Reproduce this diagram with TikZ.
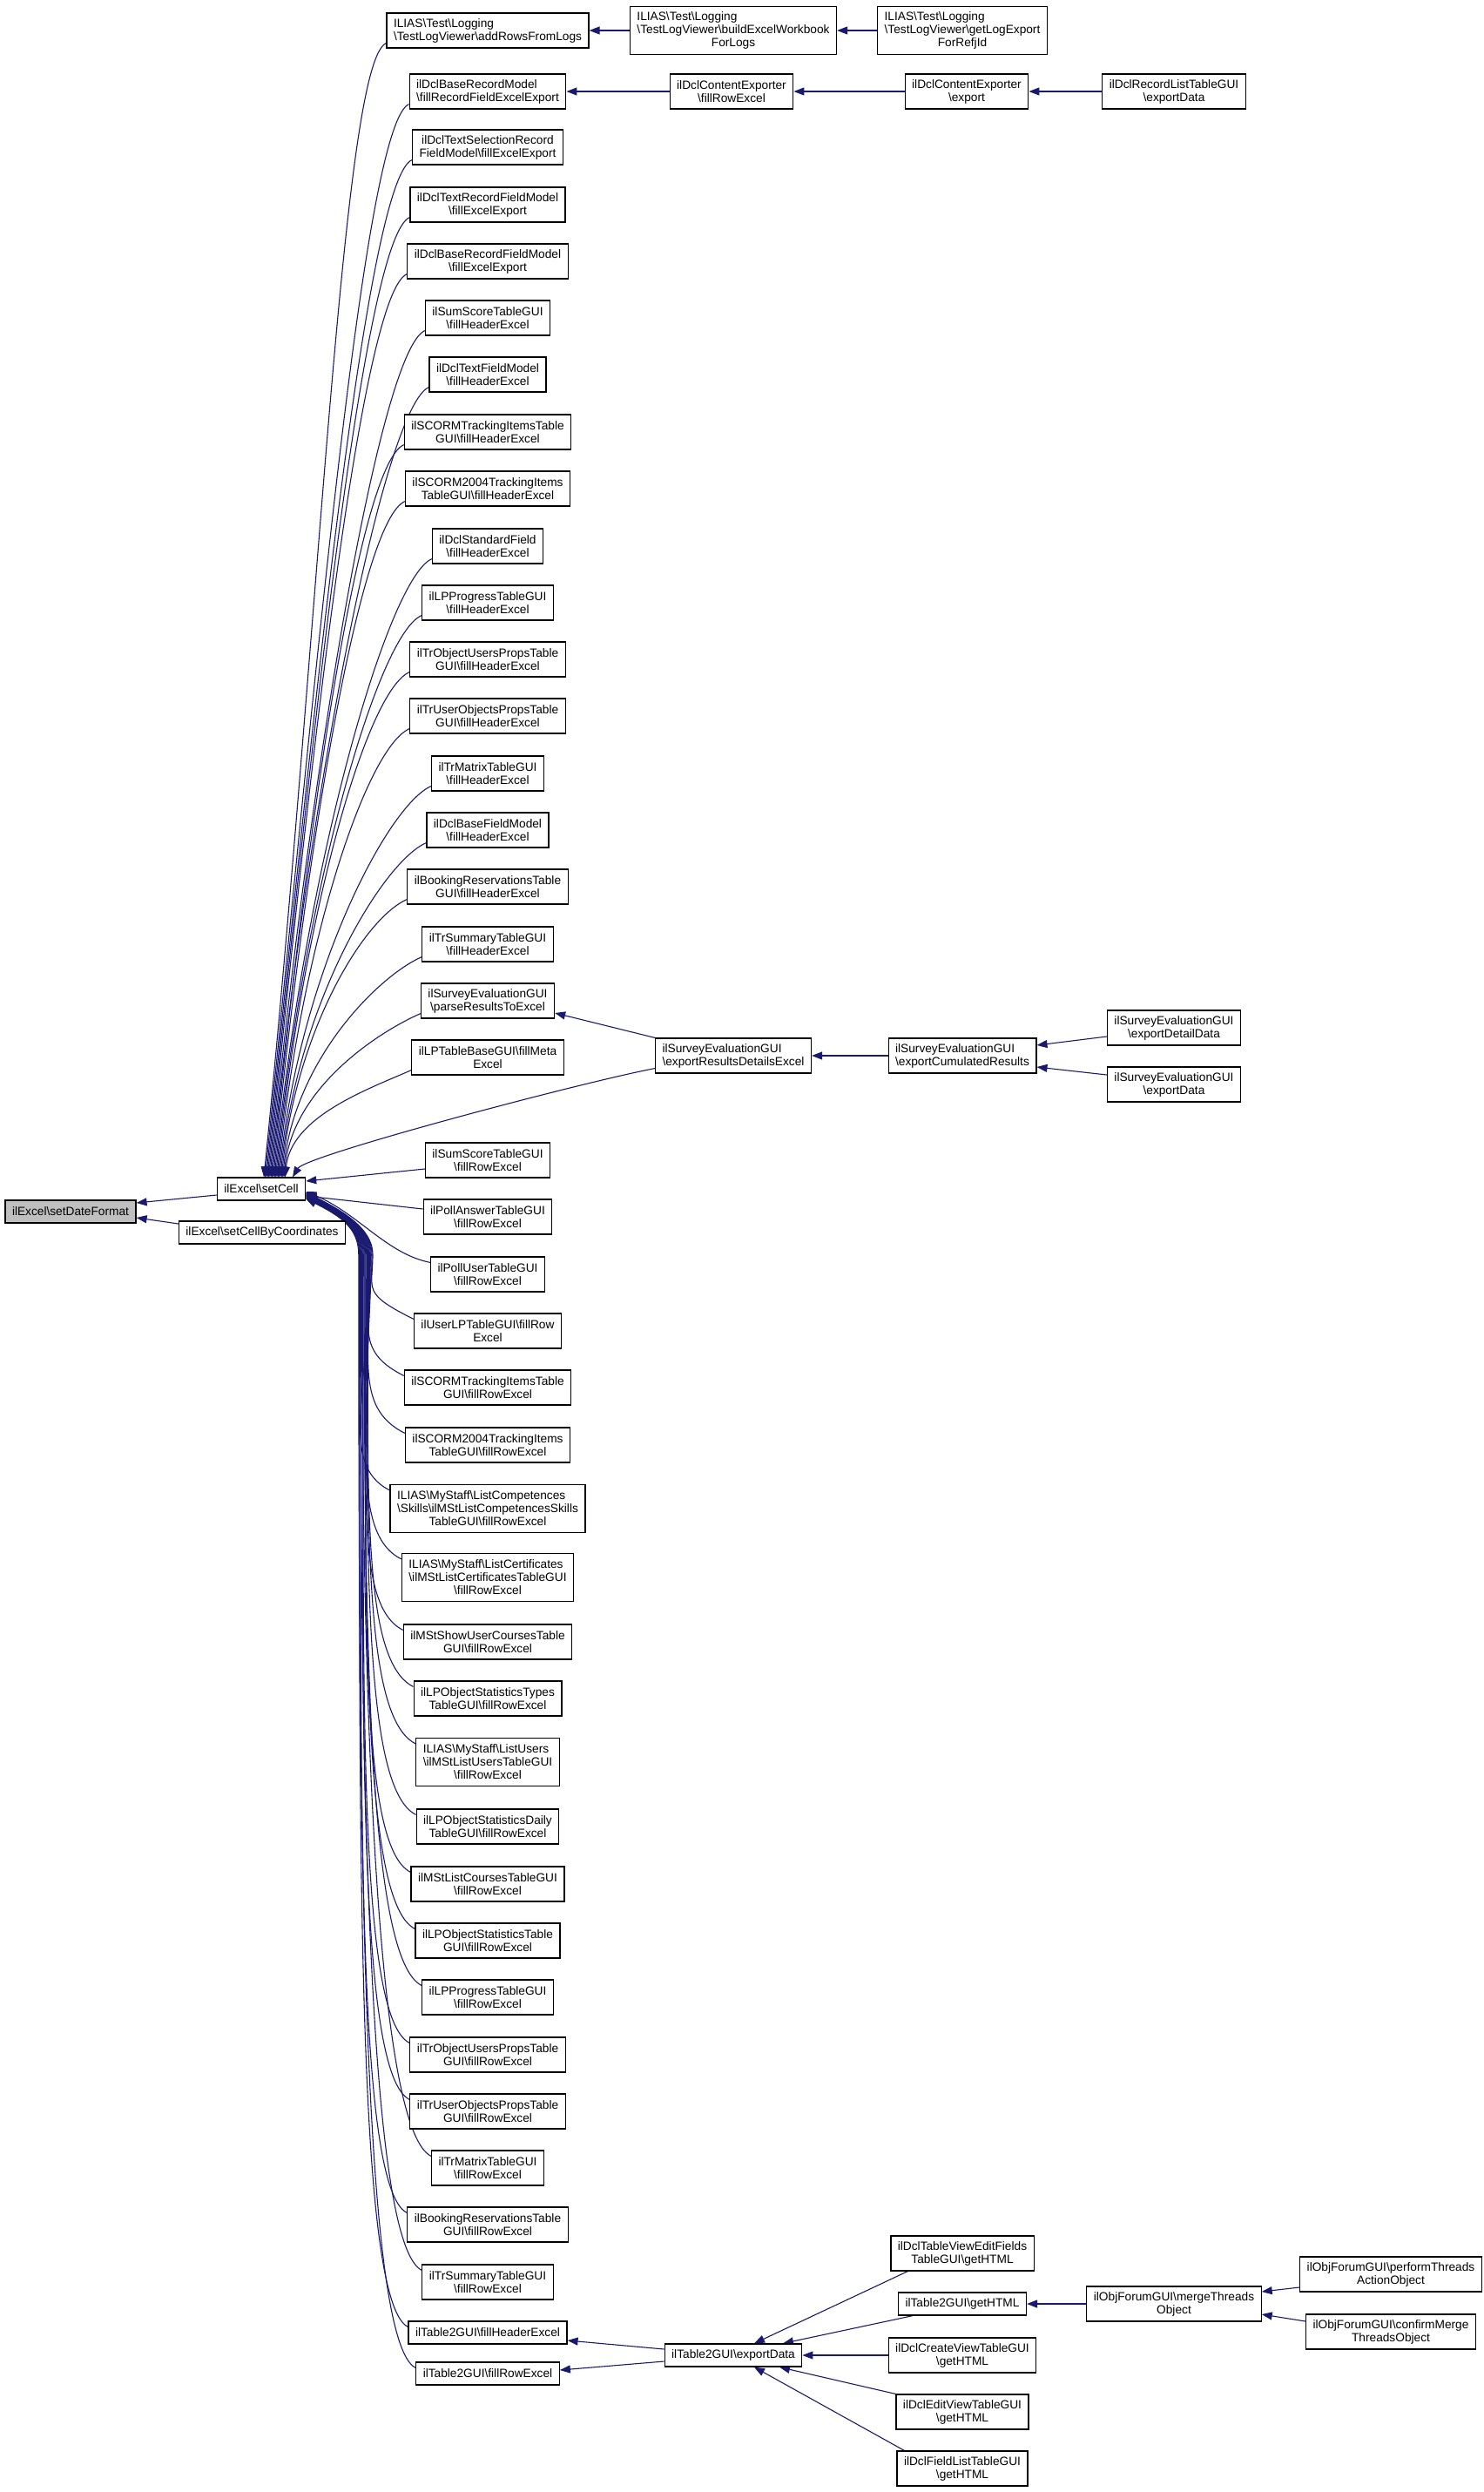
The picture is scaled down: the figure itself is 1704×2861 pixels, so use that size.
\documentclass[tikz,border=0pt]{standalone}
\usepackage{fontspec}
\setmainfont{Liberation Sans}
\usetikzlibrary{arrows.meta,calc}
\definecolor{edgecol}{HTML}{191970}
\definecolor{hl}{HTML}{BFBFBF}
\newcommand\bs{\textbackslash}
\newlength\ljA \newlength\ljB
\newcommand\lj[2]{\settowidth\ljA{#1}\settowidth\ljB{#2}\ifdim\ljA<\ljB\makebox[\ljB][l]{#1}\else#1\fi\\#2}
\pgfdeclarelayer{bg}
\pgfsetlayers{bg,main}
\tikzset{
 box/.style={draw=black, line width=1.2pt, fill=white, align=center, inner xsep=8pt, inner ysep=0pt, font=\fontsize{13.7pt}{15pt}\selectfont},
 one/.style={box, minimum height=26pt},
 two/.style={box, minimum height=40pt},
 three/.style={box, minimum height=55pt},
 edge/.style={draw=edgecol, line width=1.1pt, {Triangle[length=12pt,width=9pt]}-},
}
\begin{document}
\begin{tikzpicture}[x=1pt,y=-1pt]
\useasboundingbox (0,0) rectangle (1704,2861);
% column 0/1
\node[one, fill=hl] (sdf) at (81,1391) {ilExcel\bs setDateFormat};
\node[one] (sc) at (300,1365) {ilExcel\bs setCell};
\node[one] (scc) at (301,1415) {ilExcel\bs setCellByCoordinates};
% column 2
\node[two] (n1) at (560,35) {\lj{ILIAS\bs Test\bs Logging}{\bs TestLogViewer\bs addRowsFromLogs}};
\node[two] (n2) at (560,105) {\lj{ilDclBaseRecordModel}{\bs fillRecordFieldExcelExport}};
\node[two] (n3) at (560,169) {ilDclTextSelectionRecord\\FieldModel\bs fillExcelExport};
\node[two] (n4) at (560,235) {ilDclTextRecordFieldModel\\\bs fillExcelExport};
\node[two] (n5) at (560,300) {ilDclBaseRecordFieldModel\\\bs fillExcelExport};
\node[two] (n6) at (560,365) {ilSumScoreTableGUI\\\bs fillHeaderExcel};
\node[two] (n7) at (560,430) {ilDclTextFieldModel\\\bs fillHeaderExcel};
\node[two] (n8) at (560,496) {ilSCORMTrackingItemsTable\\GUI\bs fillHeaderExcel};
\node[two] (n9) at (560,561) {ilSCORM2004TrackingItems\\TableGUI\bs fillHeaderExcel};
\node[two] (n10) at (560,627) {ilDclStandardField\\\bs fillHeaderExcel};
\node[two] (n11) at (560,692) {ilLPProgressTableGUI\\\bs fillHeaderExcel};
\node[two] (n12) at (560,757) {ilTrObjectUsersPropsTable\\GUI\bs fillHeaderExcel};
\node[two] (n13) at (560,822) {ilTrUserObjectsPropsTable\\GUI\bs fillHeaderExcel};
\node[two] (n14) at (560,888) {ilTrMatrixTableGUI\\\bs fillHeaderExcel};
\node[two] (n15) at (560,953) {ilDclBaseFieldModel\\\bs fillHeaderExcel};
\node[two] (n16) at (560,1018) {ilBookingReservationsTable\\GUI\bs fillHeaderExcel};
\node[two] (n17) at (560,1084) {ilTrSummaryTableGUI\\\bs fillHeaderExcel};
\node[two] (n18) at (560,1149) {\lj{ilSurveyEvaluationGUI}{\bs parseResultsToExcel}};
\node[two] (n19) at (560,1214) {ilLPTableBaseGUI\bs fillMeta\\Excel};
\node[two] (n20) at (560,1332) {ilSumScoreTableGUI\\\bs fillRowExcel};
\node[two] (n21) at (560,1397) {ilPollAnswerTableGUI\\\bs fillRowExcel};
\node[two] (n22) at (560,1463) {ilPollUserTableGUI\\\bs fillRowExcel};
\node[two] (n23) at (560,1528) {ilUserLPTableGUI\bs fillRow\\Excel};
\node[two] (n24) at (560,1593) {ilSCORMTrackingItemsTable\\GUI\bs fillRowExcel};
\node[two] (n25) at (560,1659) {ilSCORM2004TrackingItems\\TableGUI\bs fillRowExcel};
\node[three] (n26) at (560,1732) {\lj{ILIAS\bs MyStaff\bs ListCompetences}{\bs Skills\bs ilMStListCompetencesSkills}\\TableGUI\bs fillRowExcel};
\node[three] (n27) at (560,1811) {\lj{ILIAS\bs MyStaff\bs ListCertificates}{\bs ilMStListCertificatesTableGUI}\\\bs fillRowExcel};
\node[two] (n28) at (560,1885) {ilMStShowUserCoursesTable\\GUI\bs fillRowExcel};
\node[two] (n29) at (560,1950) {ilLPObjectStatisticsTypes\\TableGUI\bs fillRowExcel};
\node[three] (n30) at (560,2023) {\lj{ILIAS\bs MyStaff\bs ListUsers}{\bs ilMStListUsersTableGUI}\\\bs fillRowExcel};
\node[two] (n31) at (560,2097) {ilLPObjectStatisticsDaily\\TableGUI\bs fillRowExcel};
\node[two] (n32) at (560,2163) {ilMStListCoursesTableGUI\\\bs fillRowExcel};
\node[two] (n33) at (560,2228) {ilLPObjectStatisticsTable\\GUI\bs fillRowExcel};
\node[two] (n34) at (560,2293) {ilLPProgressTableGUI\\\bs fillRowExcel};
\node[two] (n35) at (560,2359) {ilTrObjectUsersPropsTable\\GUI\bs fillRowExcel};
\node[two] (n36) at (560,2424) {ilTrUserObjectsPropsTable\\GUI\bs fillRowExcel};
\node[two] (n37) at (560,2489) {ilTrMatrixTableGUI\\\bs fillRowExcel};
\node[two] (n38) at (560,2554) {ilBookingReservationsTable\\GUI\bs fillRowExcel};
\node[two] (n39) at (560,2620) {ilTrSummaryTableGUI\\\bs fillRowExcel};
\node[one] (n40) at (560,2678) {ilTable2GUI\bs fillHeaderExcel};
\node[one] (n41) at (560,2725) {ilTable2GUI\bs fillRowExcel};
% right columns
\node[three] (bew) at (842,35) {\lj{ILIAS\bs Test\bs Logging}{\bs TestLogViewer\bs buildExcelWorkbook}\\ForLogs};
\node[three] (gle) at (1105,35) {\lj{ILIAS\bs Test\bs Logging}{\bs TestLogViewer\bs getLogExport}\\ForRefjId};
\node[two] (cef) at (840,105) {ilDclContentExporter\\\bs fillRowExcel};
\node[two] (cee) at (1110,105) {ilDclContentExporter\\\bs export};
\node[two] (rlt) at (1348,105) {ilDclRecordListTableGUI\\\bs exportData};
\node[two] (erd) at (842,1212) {\lj{ilSurveyEvaluationGUI}{\bs exportResultsDetailsExcel}};
\node[two] (ecr) at (1105,1212) {\lj{ilSurveyEvaluationGUI}{\bs exportCumulatedResults}};
\node[two] (edd) at (1348,1180) {ilSurveyEvaluationGUI\\\bs exportDetailData};
\node[two] (sed) at (1348,1245) {ilSurveyEvaluationGUI\\\bs exportData};
\node[one] (ted) at (842,2704) {ilTable2GUI\bs exportData};
\node[two] (tvef) at (1105,2587) {ilDclTableViewEditFields\\TableGUI\bs getHTML};
\node[one] (tgh) at (1105,2645) {ilTable2GUI\bs getHTML};
\node[two] (cvt) at (1105,2704) {ilDclCreateViewTableGUI\\\bs getHTML};
\node[two] (evt) at (1105,2769) {ilDclEditViewTableGUI\\\bs getHTML};
\node[two] (flt) at (1105,2834) {ilDclFieldListTableGUI\\\bs getHTML};
\node[two] (mto) at (1348,2645) {ilObjForumGUI\bs mergeThreads\\Object};
\node[two] (pta) at (1597,2611) {ilObjForumGUI\bs performThreads\\ActionObject};
\node[two] (cmt) at (1597,2677) {ilObjForumGUI\bs confirmMerge\\ThreadsObject};
\begin{pgfonlayer}{bg}
% left edges
\draw[edge] ([yshift=10pt]sdf.east) -- ([yshift=-7pt]sc.west);
\draw[edge] ([yshift=-7pt]sdf.east) -- ([yshift=10pt]scc.west);
% upper bundle into setCell
\foreach \i/\y in {1/35,2/105,3/169,4/235,5/300,6/365,7/430,8/496,9/561,10/627,11/692,12/757,13/822,14/888,15/953,16/1018,17/1084,18/1149,19/1214}{
 \pgfmathsetmacro\dx{3+(\i-1)*1.35}
 \pgfmathsetmacro\L{0.5*(1353-\y)}
 \pgfmathsetmacro\Lx{0.1*\L}
 \draw[edge] ([xshift=\dx pt]sc.north) .. controls +(\Lx,-\L) and +(-50,22) .. ([yshift=6pt]n\i.south west);
}
\draw[edge] ([xshift=36pt]sc.north) .. controls +(15,-25) and +(-80,15) .. ([yshift=6pt]erd.south west);
% near lower nodes
\draw[edge] ([yshift=9pt]sc.east) -- ([yshift=-10pt]n20.west);
\draw[edge] ([yshift=-8pt]sc.east) -- ([yshift=9pt]n21.west);
\draw[edge] ([yshift=-3pt]sc.east) .. controls +(60,25) and +(-50,-10) .. ([yshift=-7pt]n22.north west);
% lower bundle
\foreach \i/\y in {23/1528,24/1593,25/1659,26/1732,27/1811,28/1885,29/1950,30/2023,31/2097,32/2163,33/2228,34/2293,35/2359,36/2424,37/2489,38/2554,39/2620,40/2678,41/2725}{
 \pgfmathsetmacro\s{-(4+(\i-23)*0.4)}
 \pgfmathsetmacro\wx{428-(\i-23)*0.9}
 \pgfmathsetmacro\H{0.55*(\y-13-1440)}
 \draw[edge] ([yshift=\s pt]sc.east) .. controls +(40,20) and +(0,-30) .. (\wx,1440) .. controls +(0,\H) and +(-60,-30) .. ([yshift=-7pt]n\i.north west);
}
% right side edges
\draw[edge] (n1.east) -- (bew.west);
\draw[edge] (bew.east) -- (gle.west);
\draw[edge] (n2.east) -- (cef.west);
\draw[edge] (cef.east) -- (cee.west);
\draw[edge] (cee.east) -- (rlt.west);
\draw[edge] ([yshift=-14pt]n18.east) -- (erd.north west);
\draw[edge] (erd.east) -- (ecr.west);
\draw[edge] ([yshift=12pt]ecr.east) -- ([yshift=-10pt]edd.west);
\draw[edge] ([yshift=-13pt]ecr.east) -- ([yshift=11pt]sed.west);
\draw[edge] ([yshift=-9pt]n40.east) -- ([yshift=7pt]ted.west);
\draw[edge] ([yshift=4pt]n41.east) -- ([yshift=-7pt]ted.west);
\draw[edge] ([xshift=24pt]ted.north) -- ([xshift=20pt]tvef.south west);
\draw[edge] ([xshift=57pt]ted.north) -- ([xshift=17pt]tgh.south west);
\draw[edge] (ted.east) -- (cvt.west);
\draw[edge] ([xshift=53pt]ted.south) -- (evt.north west);
\draw[edge] ([xshift=24pt]ted.south) -- ([xshift=9pt]flt.north west);
\draw[edge] (tgh.east) -- (mto.west);
\draw[edge] ([yshift=14pt]mto.east) -- ([yshift=-15pt]pta.west);
\draw[edge] ([yshift=-12pt]mto.east) -- ([yshift=12pt]cmt.west);
\end{pgfonlayer}
\end{tikzpicture}
\end{document}
